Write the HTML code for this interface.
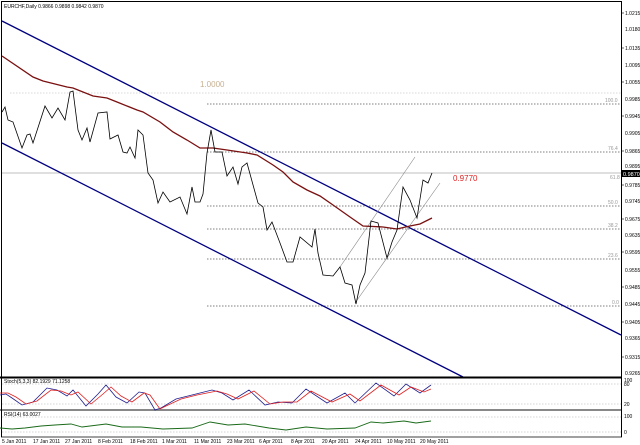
<!DOCTYPE html>
<html><head><meta charset="utf-8"><style>
html,body{margin:0;padding:0;background:#fff;width:640px;height:445px;overflow:hidden}
svg{display:block;font-family:"Liberation Sans",sans-serif}
</style></head><body>
<svg width="640" height="445" viewBox="0 0 640 445" xmlns="http://www.w3.org/2000/svg">
<rect width="640" height="445" fill="#fff"/>
<!-- fib lines -->
<g stroke="#555" stroke-width="0.7" stroke-dasharray="1.5,1.5" fill="none">
<line x1="10" y1="93" x2="621" y2="93" stroke="#ccc"/>
<line x1="207" y1="104" x2="621" y2="104"/>
<line x1="207" y1="152" x2="621" y2="152"/>
<line x1="207" y1="206" x2="621" y2="206"/>
<line x1="207" y1="229" x2="621" y2="229"/>
<line x1="207" y1="259" x2="621" y2="259"/>
<line x1="207" y1="306" x2="621" y2="306"/>
</g>
<line x1="2" y1="173" x2="621" y2="173" stroke="#aaa" stroke-width="0.8"/>
<g font-size="5" fill="#999">
<text x="605" y="102">100.0</text><text x="608" y="150">76.4</text><text x="610" y="179">61.8</text>
<text x="608" y="204">50.0</text><text x="608" y="227">38.2</text><text x="608" y="257">23.6</text><text x="612" y="304">0.0</text>
</g>
<text x="200" y="87" font-size="8" fill="#c8b090">1.0000</text>
<text x="453" y="181" font-size="8" fill="#e02020">0.9770</text>
<!-- channel -->
<line x1="2" y1="21" x2="621" y2="335" stroke="#000080" stroke-width="1.3"/>
<line x1="2" y1="143" x2="463" y2="377" stroke="#000080" stroke-width="1.3"/>
<!-- grey channel -->
<line x1="340" y1="267" x2="415" y2="157" stroke="#888" stroke-width="0.6"/>
<line x1="355" y1="303" x2="440" y2="183" stroke="#888" stroke-width="0.6"/>
<!-- MA -->
<polyline fill="none" stroke="#7a1010" stroke-width="1.3" points="2,56 33,77 43,81 67,87 73,88 93,96 107,98 117,102 137,110 143,112 160,122 173,132 187,140 200,148 213,148 227,150 247,153 257,155 273,165 283,172 293,182 307,190 320,196 333,205 350,217 363,226 383,227 397,229 410,226 420,224 432,218"/>
<!-- price -->
<polyline fill="none" stroke="#000" stroke-width="0.8" points="2,112 5,107 8,120 13,122 22,148 27,135 30,134 33,143 45,106 52,118 58,108 65,120 70,92 73,91 78,130 82,140 87,128 90,142 98,113 107,112 110,139 118,135 123,152 127,153 130,147 135,158 138,130 143,135 148,173 153,180 158,203 163,192 170,202 180,197 187,214 192,187 195,202 200,202 203,194 207,153 211,130 215,152 222,152 227,176 233,167 238,184 242,167 247,163 258,203 263,207 267,230 272,222 280,243 287,262 293,262 300,237 312,247 315,229 318,253 323,275 333,276 340,267 345,283 352,285 356,304 360,285 365,273 371,221 378,223 387,258 392,242 397,230 403,187 410,200 417,218 423,180 428,183 432,173"/>
<!-- frames -->
<rect x="1.5" y="1.5" width="620" height="375.5" fill="none" stroke="#000" stroke-width="1"/>
<line x1="0" y1="377.5" x2="622" y2="377.5" stroke="#000" stroke-width="2"/>
<line x1="0" y1="410" x2="622" y2="410" stroke="#888" stroke-width="2"/>
<line x1="1.5" y1="377" x2="1.5" y2="437" stroke="#000"/>
<line x1="621.5" y1="377" x2="621.5" y2="437" stroke="#000"/>
<line x1="1" y1="437" x2="622" y2="437" stroke="#000" stroke-width="0.8"/>
<text x="4" y="8" font-size="5" fill="#000">EURCHF,Daily 0.9866 0.9898 0.9842 0.9870</text>
<!-- y axis -->
<g font-size="5" fill="#000">
<text x="625" y="15">1.0215</text><text x="625" y="31">1.0180</text><text x="625" y="50">1.0135</text>
<text x="625" y="67">1.0095</text><text x="625" y="84">1.0055</text><text x="625" y="101">0.9985</text>
<text x="625" y="118">0.9945</text><text x="625" y="135">0.9905</text><text x="625" y="153">0.9865</text>
<text x="625" y="168">0.9895</text><text x="625" y="187">0.9785</text><text x="625" y="203">0.9745</text>
<text x="625" y="221">0.9675</text><text x="625" y="237">0.9635</text><text x="625" y="254">0.9595</text>
<text x="625" y="272">0.9555</text><text x="625" y="289">0.9485</text><text x="625" y="306">0.9445</text>
<text x="625" y="324">0.9405</text><text x="625" y="340">0.9365</text><text x="625" y="359">0.9315</text>
<text x="625" y="375">0.9265</text>
<text x="624" y="382">100</text><text x="624" y="386">80</text><text x="624" y="406">20</text>
<text x="624" y="418">100</text><text x="624" y="434">0</text>
</g>
<rect x="622" y="170" width="18" height="7" fill="#000"/>
<text x="623" y="176" font-size="5.5" fill="#fff">0.9870</text>
<g stroke="#000" stroke-width="0.6">
<line x1="621" y1="13" x2="624" y2="13"/><line x1="621" y1="48" x2="624" y2="48"/><line x1="621" y1="82" x2="624" y2="82"/><line x1="621" y1="116" x2="624" y2="116"/><line x1="621" y1="151" x2="624" y2="151"/><line x1="621" y1="185" x2="624" y2="185"/><line x1="621" y1="219" x2="624" y2="219"/><line x1="621" y1="252" x2="624" y2="252"/><line x1="621" y1="287" x2="624" y2="287"/><line x1="621" y1="322" x2="624" y2="322"/><line x1="621" y1="357" x2="624" y2="357"/>
</g>
<!-- stoch -->
<g stroke="#aaa" stroke-width="0.6" stroke-dasharray="1.5,1.5">
<line x1="2" y1="384" x2="621" y2="384"/><line x1="2" y1="404" x2="621" y2="404"/>
<line x1="2" y1="417" x2="621" y2="417"/><line x1="2" y1="432" x2="621" y2="432"/>
</g>
<text x="4" y="383" font-size="5" fill="#000">Stoch(5,3,3) 82.1929 71.1258</text>
<polyline fill="none" stroke="#202090" stroke-width="0.8" points="0,395 6,394 12,398 22,405 33,402 47,388 57,390 67,396 73,390 86,406 98,394 106,385 116,397 127,403 139,392 145,393 155,410 161,408 176,399 192,395 212,390 222,393 233,400 249,390 265,405 278,402 292,403 306,389 327,403 345,393 355,403 376,383 394,396 406,384 420,393 431,385"/>
<polyline fill="none" stroke="#e02020" stroke-width="0.8" points="0,393 8,393 16,397 26,404 37,401 51,390 61,391 71,395 78,392 91,404 103,394 111,387 121,396 132,402 144,393 150,395 160,409 166,406 181,399 197,395 217,391 227,394 238,399 254,391 270,404 283,402 297,402 311,391 332,402 350,394 360,401 381,385 399,395 411,387 424,392 431,389"/>
<!-- rsi -->
<text x="4" y="416" font-size="5" fill="#000">RSI(14) 63.0027</text>
<polyline fill="none" stroke="#1a6a1a" stroke-width="0.9" points="0,428 12,429 25,428 41,426 55,425 71,424 82,427 106,424 122,427 141,427 163,429 192,428 210,422 228,425 245,424 269,428 286,430 306,427 327,429 355,428 371,422 383,423 404,421 416,423 431,421"/>
<!-- dates -->
<g font-size="5" fill="#000">
<text x="2" y="443">5 Jan 2011</text><text x="33" y="443">17 Jan 2011</text><text x="65" y="443">27 Jan 2011</text>
<text x="98" y="443">8 Feb 2011</text><text x="130" y="443">18 Feb 2011</text><text x="162" y="443">1 Mar 2011</text>
<text x="194" y="443">11 Mar 2011</text><text x="227" y="443">23 Mar 2011</text><text x="259" y="443">6 Apr 2011</text>
<text x="291" y="443">8 Apr 2011</text><text x="322" y="443">20 Apr 2011</text><text x="355" y="443">24 Apr 2011</text>
<text x="387" y="443">10 May 2011</text><text x="420" y="443">20 May 2011</text>
</g>
</svg>
</body></html>
